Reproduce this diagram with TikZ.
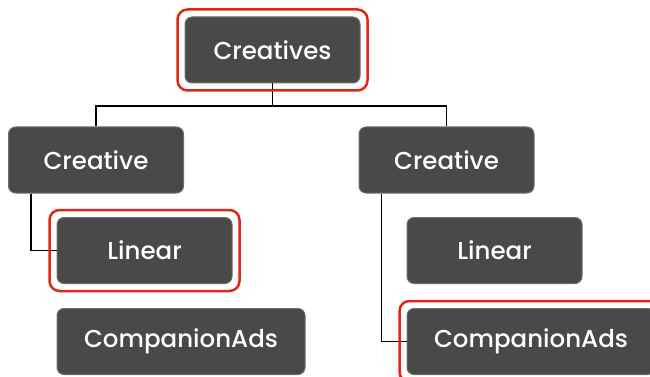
\documentclass[tikz,border=0pt]{standalone}
\usepackage{fontspec}
\setmainfont{Poppins}[UprightFont=* Medium]
\usetikzlibrary{calc}
\usetikzlibrary{fit}
\usetikzlibrary{positioning}

\definecolor{boxgray}{RGB}{74,73,73}
\definecolor{boxedge}{RGB}{110,110,110}
\definecolor{hlred}{RGB}{226,38,22}

\begin{document}
\begin{tikzpicture}[x=1pt,y=-1pt,
box/.style={draw=boxedge,line width=1pt,fill=boxgray,rounded corners=7pt,minimum width=175pt,minimum height=66pt,inner xsep=6pt,text=white,font=\fontsize{24.5}{29}\selectfont},
wide/.style={box,minimum width=248pt},
hl/.style={draw=hlred,line width=2.5pt,rounded corners=10pt,inner sep=7pt},
link/.style={draw=black,line width=1.5pt}]

\useasboundingbox (0,0) rectangle (650,377);

\node[box] (top) at (272.5,50) {Creatives};

\node[box] (cre a) at (96,160) {Creative};
\node[box] (cre b) at (446.5,160) {Creative};

\node[box] (lin a) at (144.5,250.5) {Linear};
\node[box] (lin b) at (494.5,250.5) {Linear};

\node[wide] (comp a) at (181,341.5) {CompanionAds};
\node[wide] (comp b) at (531,341.5) {CompanionAds};

\coordinate (bar) at (272.5,106);
\draw[link] (top.south) -- (bar);
\draw[link] (cre a.north) |- (bar) -| (cre b.north);

\draw[link] ($(cre a.south west)+(23,0)$) |- (lin a.west);
\draw[link] ($(cre b.south west)+(23,0)$) |- (comp b.west);

\node[hl,fit=(top)] {};
\node[hl,fit=(lin a)] {};
\node[hl,fit=(comp b)] {};
\end{tikzpicture}
\end{document}
